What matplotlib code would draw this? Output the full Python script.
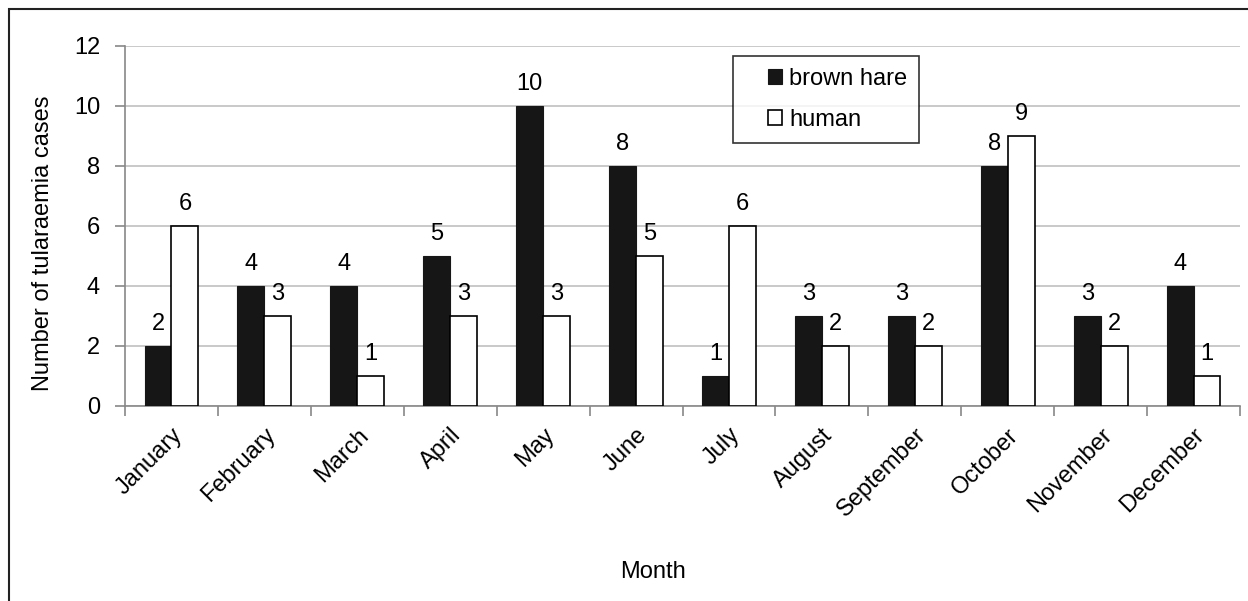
import matplotlib
matplotlib.use('Agg')
import matplotlib.pyplot as plt
from matplotlib.patches import Rectangle
from matplotlib.container import BarContainer
from matplotlib.legend_handler import HandlerPatch, update_from_first_child
import numpy as np

months = ['January', 'February', 'March', 'April', 'May', 'June', 'July',
          'August', 'September', 'October', 'November', 'December']
brown_hare = [2, 4, 4, 5, 10, 8, 1, 3, 3, 8, 3, 4]
human = [6, 3, 1, 3, 3, 5, 6, 2, 2, 9, 2, 1]

plt.rcParams['font.family'] = ['Liberation Sans', 'DejaVu Sans']
FS = 17


def small_square(legend, orig_handle, xdescent, ydescent, width, height,
                 fontsize):
    # little square sitting at the right end of the handle box
    s = height
    return Rectangle((width - xdescent - s, -ydescent), s, s)


fig = plt.figure(figsize=(12.48, 6.01), dpi=100)
# outer frame (open to the right and bottom like the source)
fig.patches.append(Rectangle((9 / 1248, -0.05), 1.2, 1 - 9 / 601 + 0.05,
                             transform=fig.transFigure, fill=False,
                             edgecolor='#222222', linewidth=1.5))

ax = fig.add_axes([125 / 1248, 1 - 406 / 601, 1115 / 1248, 360 / 601])

x = np.arange(len(months))
w = 0.29
b1 = ax.bar(x - w / 2, brown_hare, w, color='#161616', edgecolor='#161616',
            linewidth=0.8, label='brown hare', zorder=3)
b2 = ax.bar(x + w / 2, human, w, color='white', edgecolor='black',
            linewidth=1.2, label='human', zorder=3)
for bars in (b1, b2):
    ax.bar_label(bars, padding=8, fontsize=FS)

ax.set_xlim(-0.5, len(months) - 0.5)
ax.set_ylim(0, 12)
ax.set_yticks(range(0, 13, 2))
ax.yaxis.grid(True, color='#c0c0c0', linewidth=1.2, zorder=0)
ax.set_axisbelow(True)

ax.set_xticks(x)
ax.set_xticklabels(months, rotation=45, ha='right', rotation_mode='anchor',
                   fontsize=FS)
ax.tick_params(axis='x', length=0, pad=13)
ax.set_xticks(np.arange(-0.5, len(months)), minor=True)
ax.tick_params(axis='x', which='minor', length=7, color='#888888', width=1.2)
ax.tick_params(axis='y', labelsize=FS, length=7, color='#888888', width=1.2,
               pad=11)

for s in ('top', 'right'):
    ax.spines[s].set_visible(False)
for s in ('left', 'bottom'):
    ax.spines[s].set_color('#888888')
    ax.spines[s].set_linewidth(1.2)

ax.set_ylabel('Number of tularaemia cases', fontsize=FS)
ax.yaxis.set_label_coords(-0.064, 0.453)
fig.text(653 / 1248, 1 - 572 / 601, 'Month', fontsize=FS,
         ha='center', va='center')

sq = HandlerPatch(patch_func=small_square, update_func=update_from_first_child)
leg = ax.legend(loc='upper left', bbox_to_anchor=(0.545, 0.972),
                fontsize=FS, frameon=True, fancybox=False,
                edgecolor='black', handlelength=1.6, handleheight=0.55,
                handletextpad=0.3, borderpad=0.5, labelspacing=0.8,
                borderaxespad=0, handler_map={BarContainer: sq})
leg.get_frame().set_linewidth(1.2)
leg.set_zorder(5)

fig.savefig('out.png', dpi=100)
